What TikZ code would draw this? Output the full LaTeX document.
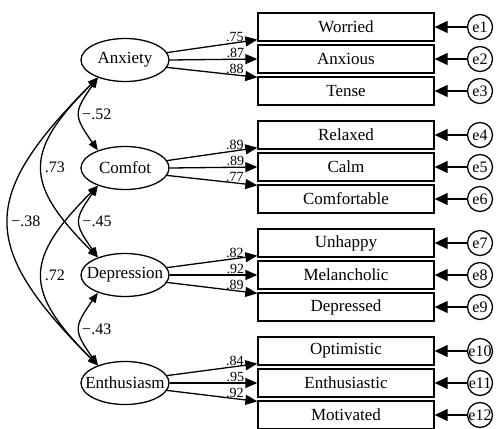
\documentclass[tikz,border=0pt]{standalone}
\usepackage{fontspec}
\setmainfont{Liberation Serif}
\usetikzlibrary{shapes.geometric}
\usetikzlibrary{arrows.meta}

\tikzset{
  latent/.style={ellipse, draw, line width=1.3pt, minimum width=88pt, minimum height=43pt, inner sep=0pt, font=\rmfamily\fontsize{17}{20}\selectfont},
  item/.style={rectangle, draw, line width=1.3pt, minimum width=176pt, minimum height=28pt, inner sep=0pt, font=\rmfamily\fontsize{17}{20}\selectfont},
  err/.style={circle, draw, line width=1.3pt, minimum size=25pt, inner sep=0pt, font=\rmfamily\fontsize{16}{18}\selectfont},
  errpath/.style={->, >={Triangle[length=13pt,width=12pt]}, line width=1.3pt},
  loadpath/.style={->, >={Triangle[length=12pt,width=10pt]}, line width=1.3pt},
  corr/.style={<->, >={Triangle[length=10pt,width=8pt]}, line width=1.3pt},
  coef/.style={pos=0.75, above, inner sep=0.5pt, font=\rmfamily\fontsize{14}{16}\selectfont},
  rlab/.style={right, inner sep=2pt, font=\rmfamily\fontsize{16}{18}\selectfont}
}

\begin{document}
\begin{tikzpicture}[x=1pt,y=1pt]
    \useasboundingbox (0,0) rectangle (497,-428);

    \node[latent] (anx) at (125,-60) {\makebox[0pt]{Anxiety}};
    \node[latent] (com) at (125,-168) {\makebox[0pt]{Comfot}};
    \node[latent] (dep) at (125,-275) {\makebox[0pt]{Depression}};
    \node[latent] (ent) at (125,-383) {\makebox[0pt]{Enthusiasm}};

    \node[item] (worried) at (346,-27) {Worried};
    \node[item] (anxious) at (346,-59) {Anxious};
    \node[item] (tense) at (346,-91) {Tense};
    \node[item] (relaxed) at (346,-135) {Relaxed};
    \node[item] (calm) at (346,-167) {Calm};
    \node[item] (comfortable) at (346,-199) {Comfortable};
    \node[item] (unhappy) at (346,-243) {Unhappy};
    \node[item] (melancholic) at (346,-275) {Melancholic};
    \node[item] (depressed) at (346,-307) {Depressed};
    \node[item] (optimistic) at (346,-351) {Optimistic};
    \node[item] (enthusiastic) at (346,-383) {Enthusiastic};
    \node[item] (motivated) at (346,-415) {Motivated};

    \node[err] (e1) at (480,-27) {\makebox[0pt]{e1}};
    \node[err] (e2) at (480,-59) {\makebox[0pt]{e2}};
    \node[err] (e3) at (480,-91) {\makebox[0pt]{e3}};
    \node[err] (e4) at (480,-135) {\makebox[0pt]{e4}};
    \node[err] (e5) at (480,-167) {\makebox[0pt]{e5}};
    \node[err] (e6) at (480,-199) {\makebox[0pt]{e6}};
    \node[err] (e7) at (480,-243) {\makebox[0pt]{e7}};
    \node[err] (e8) at (480,-275) {\makebox[0pt]{e8}};
    \node[err] (e9) at (480,-307) {\makebox[0pt]{e9}};
    \node[err] (e10) at (480,-351) {\makebox[0pt]{e10}};
    \node[err] (e11) at (480,-383) {\makebox[0pt]{e11}};
    \node[err] (e12) at (480,-415) {\makebox[0pt]{e12}};

    \draw[errpath] (e1) -- (worried);
    \draw[errpath] (e2) -- (anxious);
    \draw[errpath] (e3) -- (tense);
    \draw[errpath] (e4) -- (relaxed);
    \draw[errpath] (e5) -- (calm);
    \draw[errpath] (e6) -- (comfortable);
    \draw[errpath] (e7) -- (unhappy);
    \draw[errpath] (e8) -- (melancholic);
    \draw[errpath] (e9) -- (depressed);
    \draw[errpath] (e10) -- (optimistic);
    \draw[errpath] (e11) -- (enthusiastic);
    \draw[errpath] (e12) -- (motivated);

    \draw[loadpath] (anx.10) -- node[coef] {.75} ([yshift=2pt]worried.south west);
    \draw[loadpath] (anx.east) -- node[coef] {.87} (anxious.west);
    \draw[loadpath] (anx.-10) -- node[coef] {.88} ([yshift=-1pt]tense.north west);
    \draw[loadpath] (com.10) -- node[coef] {.89} ([yshift=2pt]relaxed.south west);
    \draw[loadpath] (com.east) -- node[coef] {.89} (calm.west);
    \draw[loadpath] (com.-10) -- node[coef] {.77} ([yshift=-1pt]comfortable.north west);
    \draw[loadpath] (dep.10) -- node[coef] {.82} ([yshift=2pt]unhappy.south west);
    \draw[loadpath] (dep.east) -- node[coef] {.92} (melancholic.west);
    \draw[loadpath] (dep.-10) -- node[coef] {.89} ([yshift=-1pt]depressed.north west);
    \draw[loadpath] (ent.10) -- node[coef] {.84} ([yshift=2pt]optimistic.south west);
    \draw[loadpath] (ent.east) -- node[coef] {.95} (enthusiastic.west);
    \draw[loadpath] (ent.-10) -- node[coef] {.92} ([yshift=-1pt]motivated.north west);

    \draw[corr] (anx.213) to[out=235,in=125,looseness=1.5] node[rlab] {−.52} (com.147);
    \draw[corr] (anx.213) to[out=225,in=135,looseness=1.5] node[rlab] {.73} (dep.147);
    \draw[corr] (anx.213) to[out=225,in=135,looseness=1.5] node[rlab] {−.38} (ent.147);
    \draw[corr] (com.213) to[out=235,in=125,looseness=1.5] node[rlab] {−.45} (dep.147);
    \draw[corr] (com.213) to[out=225,in=135,looseness=1.5] node[rlab] {.72} (ent.147);
    \draw[corr] (dep.213) to[out=235,in=125,looseness=1.5] node[rlab] {−.43} (ent.147);
\end{tikzpicture}
\end{document}
